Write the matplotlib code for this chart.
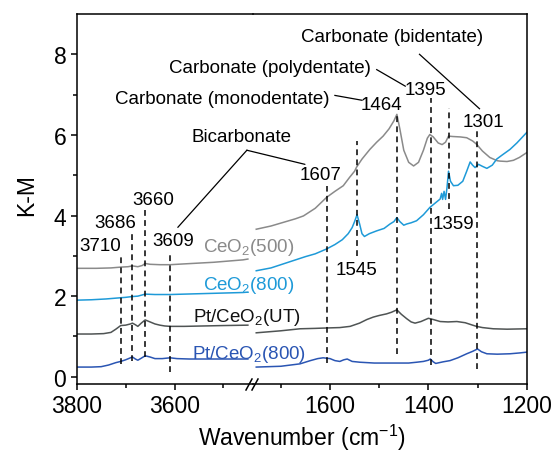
import matplotlib
matplotlib.use("Agg")
import matplotlib.pyplot as plt
from matplotlib.patches import ConnectionPatch

plt.rcParams["font.family"] = ["Liberation Sans", "DejaVu Sans"]
plt.rcParams["mathtext.fontset"] = "custom"
plt.rcParams["mathtext.rm"] = "Liberation Sans"
plt.rcParams["mathtext.it"] = "Liberation Sans"
plt.rcParams["mathtext.default"] = "regular"

# ---- spectra: high-wavenumber (OH) window -------------------------------
ceo2_500_hi_wn = [3800, 3760, 3730, 3710, 3695, 3686, 3675, 3666, 3660, 3650,
                  3630, 3609, 3580, 3550, 3520, 3490, 3460, 3450]
ceo2_500_hi = [2.69, 2.69, 2.70, 2.72, 2.73, 2.75, 2.73, 2.76, 2.81, 2.79,
               2.78, 2.78, 2.80, 2.82, 2.84, 2.87, 2.90, 2.92]

ceo2_800_hi_wn = [3800, 3770, 3740, 3710, 3700, 3686, 3675, 3660, 3640, 3609,
                  3580, 3550, 3520, 3490, 3460, 3450]
ceo2_800_hi = [1.90, 1.91, 1.93, 1.96, 1.97, 1.99, 2.00, 2.05, 2.04, 2.04,
               2.05, 2.06, 2.07, 2.08, 2.09, 2.10]

pt_ut_hi_wn = [3800, 3770, 3745, 3730, 3720, 3710, 3700, 3690, 3686, 3680,
               3675, 3668, 3660, 3650, 3640, 3630, 3620, 3609, 3580, 3540,
               3500, 3450]
pt_ut_hi = [1.06, 1.06, 1.07, 1.10, 1.18, 1.27, 1.28, 1.31, 1.33, 1.29,
            1.25, 1.33, 1.41, 1.36, 1.31, 1.28, 1.26, 1.25, 1.25, 1.26,
            1.27, 1.28]

pt_800_hi_wn = [3800, 3770, 3750, 3735, 3720, 3710, 3700, 3690, 3686, 3680,
                3675, 3668, 3660, 3650, 3640, 3625, 3609, 3595, 3570, 3530,
                3490, 3450]
pt_800_hi = [0.24, 0.24, 0.25, 0.29, 0.35, 0.38, 0.42, 0.47, 0.49, 0.44,
             0.41, 0.46, 0.52, 0.49, 0.45, 0.45, 0.47, 0.45, 0.44, 0.44,
             0.44, 0.44]

# ---- spectra: carbonate window -------------------------------------------
ceo2_500_lo_wn = [1750, 1720, 1695, 1670, 1654, 1630, 1607, 1590, 1573, 1560,
                  1550, 1546, 1535, 1519, 1505, 1492, 1480, 1470, 1464, 1458,
                  1450, 1440, 1430, 1420, 1410, 1402, 1397, 1390, 1380, 1372,
                  1365, 1359, 1350, 1335, 1322, 1310, 1302, 1290, 1275, 1260,
                  1254, 1240, 1227, 1215, 1200]
ceo2_500_lo = [3.66, 3.74, 3.83, 3.92, 3.99, 4.18, 4.45, 4.60, 4.74, 4.95,
               5.10, 5.20, 5.40, 5.64, 5.82, 5.97, 6.15, 6.35, 6.51, 6.15,
               5.62, 5.32, 5.23, 5.32, 5.62, 5.92, 6.01, 5.95, 5.80, 5.76,
               5.82, 5.97, 5.96, 5.95, 5.93, 5.85, 5.77, 5.60, 5.44, 5.36,
               5.35, 5.34, 5.37, 5.44, 5.56]

ceo2_800_lo_wn = [1750, 1720, 1695, 1670, 1650, 1630, 1607, 1590, 1575, 1563,
                  1555, 1550, 1545, 1540, 1535, 1530, 1520, 1505, 1490, 1478,
                  1470, 1464, 1458, 1450, 1444, 1435, 1424, 1410, 1397, 1385,
                  1376, 1373, 1371, 1368, 1365, 1362, 1359, 1355, 1349, 1340,
                  1330, 1322, 1315, 1310, 1305, 1298, 1290, 1281, 1270, 1261,
                  1250, 1234, 1220, 1200]
ceo2_800_lo = [2.63, 2.70, 2.80, 2.90, 2.98, 3.05, 3.17, 3.28, 3.40, 3.55,
               3.70, 3.85, 4.02, 3.80, 3.55, 3.48, 3.55, 3.62, 3.68, 3.79,
               3.85, 3.95, 3.85, 3.76, 3.79, 3.82, 3.87, 4.02, 4.20, 4.32,
               4.41, 4.55, 4.40, 4.60, 4.40, 4.70, 5.10, 4.85, 4.74, 4.75,
               4.85, 5.10, 5.33, 5.25, 5.19, 5.27, 5.22, 5.17, 5.25, 5.40,
               5.50, 5.64, 5.80, 6.06]

pt_ut_lo_wn = [1750, 1700, 1661, 1630, 1607, 1580, 1559, 1540, 1525, 1512,
               1500, 1485, 1475, 1464, 1455, 1444, 1435, 1427, 1415, 1400,
               1390, 1376, 1360, 1342, 1325, 1310, 1302, 1290, 1268, 1240,
               1200]
pt_ut_lo = [1.09, 1.14, 1.19, 1.20, 1.21, 1.22, 1.25, 1.33, 1.42, 1.48,
            1.52, 1.56, 1.60, 1.66, 1.55, 1.44, 1.36, 1.33, 1.37, 1.45,
            1.42, 1.37, 1.36, 1.37, 1.34, 1.28, 1.25, 1.22, 1.19, 1.18,
            1.19]

pt_800_lo_wn = [1750, 1700, 1661, 1640, 1625, 1614, 1600, 1590, 1580, 1572,
                1565, 1555, 1539, 1510, 1480, 1464, 1440, 1424, 1410, 1400,
                1396, 1390, 1385, 1370, 1356, 1340, 1322, 1310, 1300, 1292,
                1281, 1260, 1234, 1215, 1200]
pt_800_lo = [0.24, 0.26, 0.32, 0.40, 0.45, 0.47, 0.45, 0.40, 0.38, 0.42,
             0.44, 0.38, 0.36, 0.34, 0.34, 0.34, 0.34, 0.36, 0.38, 0.41,
             0.44, 0.37, 0.33, 0.37, 0.40, 0.47, 0.57, 0.63, 0.69, 0.62,
             0.57, 0.56, 0.57, 0.59, 0.61]

series_names = ["CeO$_2$(500)", "CeO$_2$(800)", "Pt/CeO$_2$(UT)", "Pt/CeO$_2$(800)"]
series_colors = ["#8a8a8a", "#1e9ad8", "#4f5454", "#2a55b3"]
label_colors = ["#8a8a8a", "#1e9ad8", "#111111", "#2a55b3"]
label_pos = [(3542, 3.24), (3542, 2.30), (3562, 1.49), (3565, 0.57)]

hi_data = [(ceo2_500_hi_wn, ceo2_500_hi), (ceo2_800_hi_wn, ceo2_800_hi),
           (pt_ut_hi_wn, pt_ut_hi), (pt_800_hi_wn, pt_800_hi)]
lo_data = [(ceo2_500_lo_wn, ceo2_500_lo), (ceo2_800_lo_wn, ceo2_800_lo),
           (pt_ut_lo_wn, pt_ut_lo), (pt_800_lo_wn, pt_800_lo)]

# ---- band positions (dashed guides): wavenumber, lower end, upper end ------
hi_bands = [3710, 3686, 3660, 3609]
hi_band_lo = [0.32, 0.40, 0.49, 0.12]
hi_band_hi = [3.05, 3.62, 4.17, 3.05]
hi_band_text = [(3752, 3.25), (3722, 3.83), (3643, 4.40), (3602, 3.39)]

lo_bands = [1607, 1545, 1464, 1395, 1359, 1301]
lo_band_lo = [0.33, 3.00, 0.57, 0.28, 4.16, 0.20]
lo_band_hi = [4.74, 5.85, 6.55, 6.92, 6.67, 6.10]
lo_band_text = [(1620, 5.02), (1546, 2.67), (1495, 6.76), (1406, 7.13),
                (1348, 3.79), (1287, 6.34)]

# ---- figure layout -------------------------------------------------------
W, H = 555, 452
fig = plt.figure(figsize=(W / 100, H / 100), dpi=100)
x0, xb, x1 = 76.7, 253.0, 526.7
y_top, y_bot = 15.0, 385.0
bottom = 1 - y_bot / H
height = (y_bot - y_top) / H
axL = fig.add_axes([x0 / W, bottom, (xb - x0) / W, height])
axR = fig.add_axes([xb / W, bottom, (x1 - xb) / W, height])
# the right panel must not paint over labels that reach across the break
axR.patch.set_visible(False)

ylim = (-0.18, 9.0)
axL.set_xlim(3800, 3439.5)
axR.set_xlim(1756.6, 1200)
for ax in (axL, axR):
    ax.set_ylim(*ylim)
    for s in ax.spines.values():
        s.set_linewidth(1.1)
    ax.tick_params(direction="out", length=4.5, width=1.1, labelsize=16.5,
                   pad=3)
    ax.tick_params(which="minor", direction="out", length=3, width=1.1)

axL.spines["right"].set_visible(False)
axR.spines["left"].set_visible(False)
axR.tick_params(axis="y", which="both", left=False, labelleft=False)

axL.set_xticks([3800, 3600])
axL.set_xticks([3700, 3500], minor=True)
axR.set_xticks([1600, 1400, 1200])
axR.set_xticks([1700, 1500, 1300], minor=True)
axL.set_yticks([0, 2, 4, 6, 8])
axL.set_yticks([1, 3, 5, 7], minor=True)

# ---- spectra -------------------------------------------------------------
for (wh, yh), (wl, yl), c in zip(hi_data, lo_data, series_colors):
    axL.plot(wh, yh, color=c, lw=1.1)
    axR.plot(wl, yl, color=c, lw=1.1)

fs = 13.5
for name, c, (xw, yv) in zip(series_names, label_colors, label_pos):
    axL.text(xw, yv, name, color=c, fontsize=fs, ha="left", va="center",
             clip_on=False)

# ---- dashed band markers ---------------------------------------------------
dash = dict(color="black", lw=1.1, dashes=(3.8, 2.8))
for wn, lo, hi, (tx, ty) in zip(hi_bands, hi_band_lo, hi_band_hi, hi_band_text):
    axL.plot([wn, wn], [lo, hi], **dash)
    axL.text(tx, ty, str(wn), fontsize=fs, ha="center", va="center")
for wn, lo, hi, (tx, ty) in zip(lo_bands, lo_band_lo, lo_band_hi, lo_band_text):
    axR.plot([wn, wn], [lo, hi], **dash)
    axR.text(tx, ty, str(wn), fontsize=fs, ha="center", va="center")

# ---- assignment labels with leader lines ------------------------------------
lead = dict(color="black", lw=0.9)
axR.text(1474, 8.45, "Carbonate (bidentate)", fontsize=fs, ha="center", va="center")
axR.plot([1418, 1296], [8.00, 6.65], **lead)
axR.text(1722, 7.67, "Carbonate (polydentate)", fontsize=fs, ha="center",
         va="center", clip_on=False)
axR.plot([1505, 1447], [7.62, 7.21], **lead)
axL.text(3503, 6.91, "Carbonate (monodentate)", fontsize=fs, ha="center",
         va="center", clip_on=False)
axR.plot([1590, 1535], [6.98, 6.86], **lead)
axL.text(3463, 5.97, "Bicarbonate", fontsize=fs, ha="center", va="center",
         clip_on=False)
axL.plot([3452, 3593], [5.62, 3.71], **lead)
fig.add_artist(ConnectionPatch(xyA=(3452, 5.62), coordsA=axL.transData,
                               xyB=(1651, 5.27), coordsB=axR.transData,
                               color="black", lw=0.9))

# ---- axis break mark -----------------------------------------------------
bw = x1 - xb
bh = y_bot - y_top
for dx in (-6.0, 0.0):
    axR.plot([(dx - 1) / bw, (dx + 5) / bw], [-6 / bh, 5 / bh],
             transform=axR.transAxes, color="black", lw=1.1, clip_on=False)

# ---- axis titles -----------------------------------------------------------
fig.text(302 / W, 1 - 438 / H, "Wavenumber (cm$^{-1}$)", fontsize=16.5,
         ha="center", va="center")
fig.text(27 / W, 1 - 195 / H, "K-M", fontsize=16.5, rotation=90,
         ha="center", va="center")

fig.savefig("out.png", dpi=100)
